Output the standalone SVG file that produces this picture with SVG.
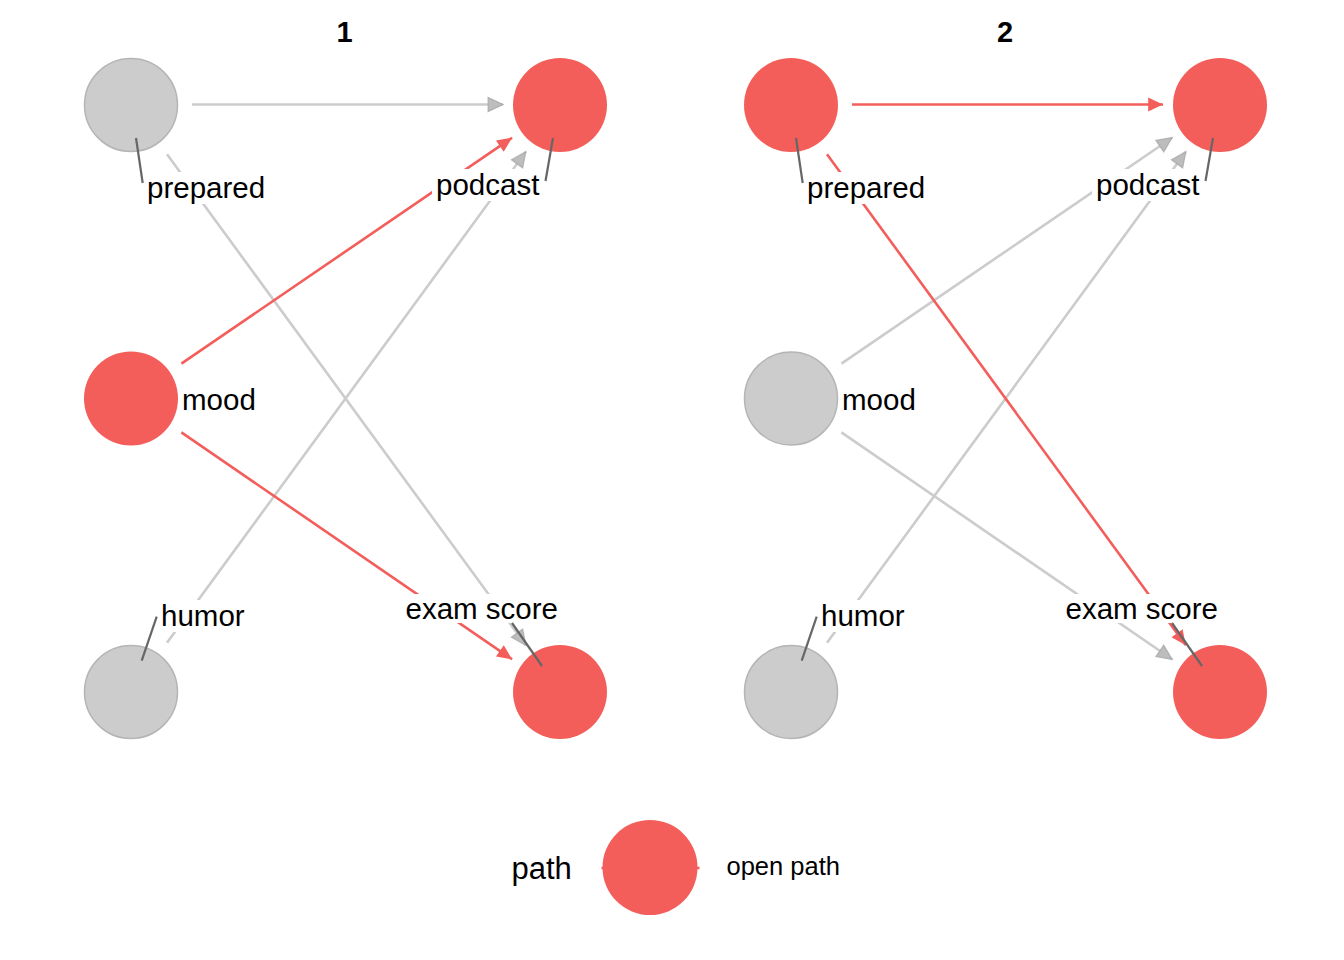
<svg xmlns="http://www.w3.org/2000/svg" width="1344" height="960" viewBox="0 0 1344 960">
<style>
.bg{fill:#ffffff}
.nr{fill:#f35e5a}
.ng{fill:#cccccc;stroke:#b5b5b5;stroke-width:1.5}
.eg{stroke:#cccccc;stroke-width:2.6;fill:none;marker-end:url(#ag)}
.er{stroke:#f35e5a;stroke-width:2.6;fill:none;marker-end:url(#ar)}
.lb{fill:#ffffff}
.lt{font-family:"Liberation Sans",Arial,Helvetica,sans-serif;font-size:29.5px;fill:#000000}
.ld{stroke:#666666;stroke-width:2.2}
.title{font-family:"Liberation Sans",Arial,Helvetica,sans-serif;font-size:29px;font-weight:bold;fill:#000000;text-anchor:middle}
</style>
<defs>
<marker id="ag" markerUnits="userSpaceOnUse" markerWidth="18" markerHeight="18" viewBox="-1 -8 17 16" refX="14" refY="0" orient="auto">
<path d="M0,-6.5 L14,0 L0,6.5 Z" fill="#bdbdbd" stroke="#a8a8a8" stroke-width="1.2" stroke-opacity="0.8"/>
</marker>
<marker id="ar" markerUnits="userSpaceOnUse" markerWidth="18" markerHeight="18" viewBox="-1 -8 17 16" refX="14" refY="0" orient="auto">
<path d="M0,-6.5 L14,0 L0,6.5 Z" fill="#f35e5a"/>
</marker>
</defs>
<rect class="bg" x="0" y="0" width="1344" height="960"/>

<text class="title" x="344.5" y="42">1</text>
<text class="title" x="1005" y="42">2</text>

<g id="connectors">
<!-- panel 1 -->
<line class="eg" x1="192" y1="104.5" x2="503" y2="104.5"/>
<line class="eg" x1="167" y1="154.2" x2="525.8" y2="645.2"/>
<line class="eg" x1="167" y1="642.8" x2="525.8" y2="151.8"/>
<line class="er" x1="181.4" y1="363.6" x2="512.1" y2="137.7"/>
<line class="er" x1="181.4" y1="432.4" x2="512.1" y2="659.3"/>
<!-- panel 2 -->
<line class="eg" x1="841.4" y1="363.6" x2="1172.1" y2="137.7"/>
<line class="eg" x1="841.4" y1="432.4" x2="1172.1" y2="659.3"/>
<line class="eg" x1="827" y1="642.8" x2="1185.8" y2="151.8"/>
<line class="er" x1="852" y1="104.5" x2="1163" y2="104.5"/>
<line class="er" x1="827" y1="154.2" x2="1185.8" y2="645.2"/>
</g>

<!-- panel 1 nodes -->
<g id="p1-prepared">
<circle class="ng" cx="131" cy="105" r="46.5"/>
<rect class="lb" x="143" y="172" width="125" height="32" rx="3"/>
<text class="lt" x="147" y="198">prepared</text>
<line class="ld" x1="136" y1="138" x2="142.7" y2="183"/>
</g>
<g id="p1-podcast">
<circle class="nr" cx="560" cy="105" r="47"/>
<rect class="lb" x="432" y="169" width="110" height="32" rx="3"/>
<text class="lt" x="436" y="195">podcast</text>
<line class="ld" x1="553" y1="138" x2="545.5" y2="181"/>
</g>
<g id="p1-mood">
<circle class="nr" cx="131" cy="398.5" r="47"/>
<text class="lt" x="182" y="410">mood</text>
</g>
<g id="p1-humor">
<circle class="ng" cx="131" cy="692" r="46.5"/>
<rect class="lb" x="157" y="600" width="91" height="32" rx="3"/>
<text class="lt" x="161" y="626">humor</text>
<line class="ld" x1="141.7" y1="660.7" x2="156.7" y2="616.7"/>
</g>
<g id="p1-exam">
<circle class="nr" cx="560" cy="692" r="47"/>
<rect class="lb" x="402" y="594" width="159" height="29" rx="3"/>
<text class="lt" x="405.5" y="619">exam score</text>
<line class="ld" x1="512" y1="623" x2="542" y2="666"/>
</g>

<!-- panel 2 nodes -->
<g id="p2-prepared">
<circle class="nr" cx="791" cy="105" r="47"/>
<rect class="lb" x="803" y="172" width="125" height="32" rx="3"/>
<text class="lt" x="807" y="198">prepared</text>
<line class="ld" x1="796" y1="138" x2="802.7" y2="183"/>
</g>
<g id="p2-podcast">
<circle class="nr" cx="1220" cy="105" r="47"/>
<rect class="lb" x="1092" y="169" width="110" height="32" rx="3"/>
<text class="lt" x="1096" y="195">podcast</text>
<line class="ld" x1="1213" y1="138" x2="1205.5" y2="181"/>
</g>
<g id="p2-mood">
<circle class="ng" cx="791" cy="398.5" r="46.5"/>
<text class="lt" x="842" y="410">mood</text>
</g>
<g id="p2-humor">
<circle class="ng" cx="791" cy="692" r="46.5"/>
<rect class="lb" x="817" y="600" width="91" height="32" rx="3"/>
<text class="lt" x="821" y="626">humor</text>
<line class="ld" x1="801.7" y1="660.7" x2="816.7" y2="616.7"/>
</g>
<g id="p2-exam">
<circle class="nr" cx="1220" cy="692" r="47"/>
<rect class="lb" x="1062" y="594" width="159" height="29" rx="3"/>
<text class="lt" x="1065.5" y="619">exam score</text>
<line class="ld" x1="1172" y1="623" x2="1202" y2="666"/>
</g>

<g id="legend">
<text x="511.5" y="879" font-family="Liberation Sans,Arial,sans-serif" font-size="31" fill="#000000">path</text>
<line x1="601.5" y1="868" x2="699.5" y2="868" stroke="#f35e5a" stroke-width="2.5"/>
<circle class="nr" cx="650" cy="867.5" r="47.5"/>
<text x="726.5" y="875" font-family="Liberation Sans,Arial,sans-serif" font-size="25.5" fill="#000000">open path</text>
</g>
</svg>
